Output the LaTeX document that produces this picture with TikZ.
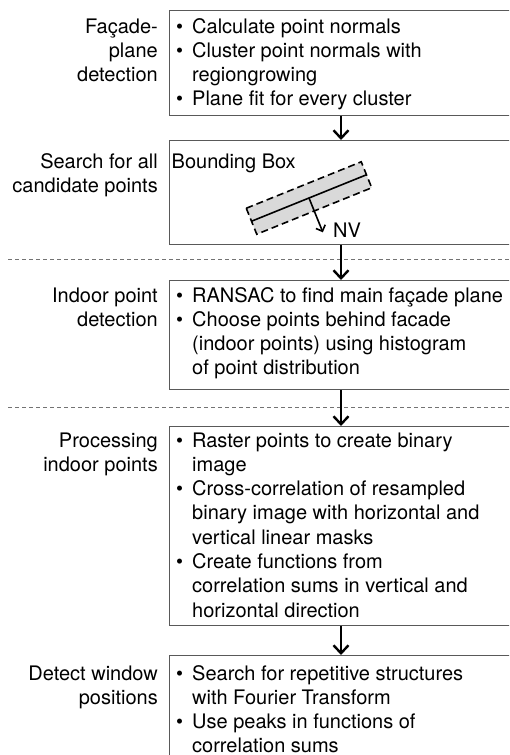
\documentclass[tikz,border=0pt]{standalone}
\usepackage{fontspec}
\setmainfont{TeX Gyre Heros}
\usetikzlibrary{arrows.meta}
\newcommand{\bl}{\makebox[16pt][l]{\textbullet}}
\newcommand{\ind}{\hspace*{16pt}}
\newcommand{\boxtext}[1]{\parbox[t]{330pt}{\raggedright #1}}
\newcommand{\lbltext}[1]{\parbox[t]{160pt}{\raggedleft #1}}
\tikzset{
  txt/.style={inner sep=0pt, font=\fontsize{20pt}{24.3pt}\selectfont, anchor=base west},
  lbl/.style={inner sep=0pt, font=\fontsize{20pt}{24.3pt}\selectfont, anchor=base east},
  stepbox/.style={draw=black!65, line width=1.3pt, rectangle, inner sep=0pt, anchor=north west, minimum width=360pt},
  arr/.style={line width=2.4pt, -{Straight Barb[length=8pt,width=15pt,line width=2.4pt]}},
  sep/.style={draw=black!55, line width=0.8pt, dash pattern=on 4pt off 3pt},
}
\begin{document}
\begin{tikzpicture}[x=1pt,y=-1pt]
\useasboundingbox (0,0) rectangle (509,755);
\clip (0,0) rectangle (509,755);
\fill[white] (0,0) rectangle (509,755);
% boxes
\node[stepbox, minimum height=105pt] (b1) at (169,10) {};
\node[stepbox, minimum height=104pt] (b2) at (169,140) {};
\node[stepbox, minimum height=109pt] (b3) at (169,280) {};
\node[stepbox, minimum height=199pt] (b4) at (169,426) {};
\node[stepbox, minimum height=130pt] (b5) at (169,655) {};
% separators
\coordinate (sl1) at (8,259);
\coordinate (sr1) at (520,259);
\coordinate (sl2) at (8,407);
\coordinate (sr2) at (520,407);
\draw[sep] (sl1) -- (sr1);
\draw[sep] (sl2) -- (sr2);
% arrows
\coordinate (ax) at (341,0);
\draw[arr] (ax |- b1.south) -- (ax |- b2.north);
\draw[arr] (ax |- b2.south) -- (ax |- b3.north);
\draw[arr] (ax |- b3.south) -- (ax |- b4.north);
\draw[arr] (ax |- b4.south) -- (ax |- b5.north);
% labels
\node[lbl] (l1) at (158,33) {\lbltext{Façade-\\plane\\detection}};
\node[lbl] (l2) at (158,168) {\lbltext{Search for all\\candidate points}};
\node[lbl] (l3) at (158,302) {\lbltext{Indoor point\\detection}};
\node[lbl] (l4) at (158,447) {\lbltext{Processing\\indoor points}};
\node[lbl] (l5) at (158,680) {\lbltext{Detect window\\positions}};
% box texts
\node[txt] (t1) at (176,33) {\boxtext{\bl Calculate point normals\\
\bl Cluster point normals with\\
\ind regiongrowing\\
\bl Plane fit for every cluster}};
\node[txt] (t2) at (171.5,168) {Bounding Box};
\node[txt] (t3) at (176,302) {\boxtext{\bl RANSAC to find main façade plane\\
\bl Choose points behind facade\\
\ind (indoor points) using histogram\\
\ind of point distribution}};
\node[txt] (t4) at (176,447) {\boxtext{\bl Raster points to create binary\\
\ind image\\
\bl Cross-correlation of resampled\\
\ind binary image with horizontal and\\
\ind vertical linear masks\\
\bl Create functions from\\
\ind correlation sums in vertical and\\
\ind horizontal direction}};
\node[txt] (t5) at (176,680) {\boxtext{\bl Search for repetitive structures\\
\ind with Fourier Transform\\
\bl Use peaks in functions of\\
\ind correlation sums}};
% bounding box sketch
\begin{scope}[shift={(309,198)}, rotate=22]
\draw[fill=black!15, line width=1.6pt, dash pattern=on 7pt off 4pt] (-62,-14) rectangle (62,14);
\coordinate (pl) at (-62,0);
\coordinate (pr) at (62,0);
\coordinate (pc) at (0,0);
\coordinate (pn) at (0,37);
\draw[line width=1.6pt] (pl) -- (pr);
\draw[line width=1.6pt, -{Straight Barb[length=5pt,width=10pt,line width=1.6pt]}] (pc) -- (pn);
\end{scope}
\node[txt] (nv) at (333,237) {NV};
\end{tikzpicture}
\end{document}
